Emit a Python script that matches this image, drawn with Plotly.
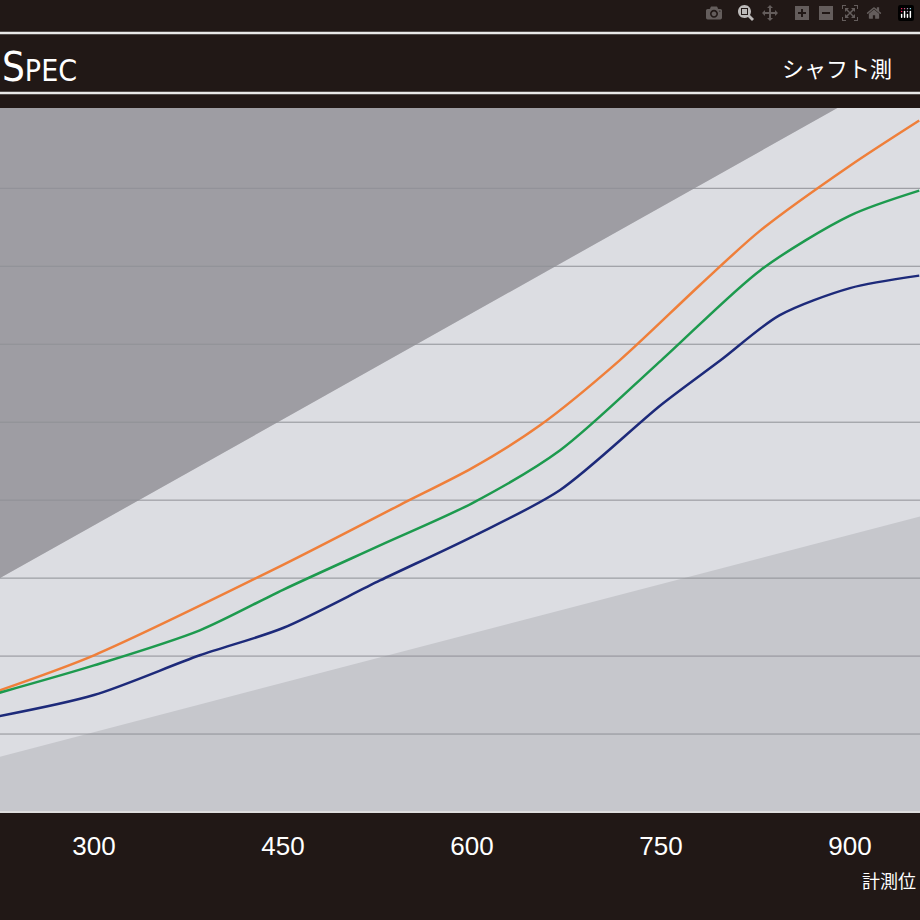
import plotly.graph_objects as go

ox = [225, 300, 450, 543, 600, 654, 717, 781, 829, 900, 955]
oy = [1.56, 2.01, 3.17, 3.94, 4.41, 4.96, 5.79, 6.76, 7.46, 8.29, 8.87]
gx = [225, 300, 384, 450, 527, 600, 670, 750, 829, 900, 955]
gy = [1.53, 1.88, 2.33, 2.85, 3.42, 3.96, 4.64, 5.79, 6.95, 7.65, 7.97]
bx = [225, 300, 384, 450, 527, 600, 670, 750, 797, 844, 900, 955]
by = [1.23, 1.50, 2.01, 2.36, 2.97, 3.53, 4.13, 5.22, 5.79, 6.37, 6.72, 6.88]
xticks = [300, 450, 600, 750, 900]

X0, X1, Y0, Y1 = 225.4, 955.6, 0, 9.03
fig = go.Figure()
shapes = [
    dict(type="path", path=f"M {X0},{Y0} L {X1},{Y0} L {X1},{Y1} L {X0},{Y1} Z", fillcolor="#c6c7cc", line_width=0, layer="below"),
    dict(type="path", path=f"M {X0},0.71 L {X1},3.79 L {X1},{Y1} L 890,{Y1} L {X0},3.0 Z", fillcolor="#dcdde2", line_width=0, layer="below"),
    dict(type="path", path=f"M {X0},3.0 L 890,{Y1} L {X0},{Y1} Z", fillcolor="#9e9da3", line_width=0, layer="below"),
]
for g in range(1, 9):
    shapes.append(dict(type="line", x0=X0, x1=X1, y0=g, y1=g, line=dict(color="#8f9096", width=1), layer="below"))
for py in (33, 93):
    yp = (812 - py) / 704
    shapes.append(dict(type="line", xref="paper", yref="paper", x0=0, x1=1, y0=yp, y1=yp, line=dict(color="#e8e8e8", width=2.5)))
shapes.append(dict(type="line", xref="paper", yref="paper", x0=0, x1=1, y0=0, y1=0, line=dict(color="#ddd", width=2)))

for x, y, c in [(ox, oy, "#ef7f3a"), (gx, gy, "#1d9a4e"), (bx, by, "#1d2a7a")]:
    fig.add_trace(go.Scatter(x=x, y=y, mode="lines", line=dict(color=c, width=2.5, shape="spline", smoothing=0.8), showlegend=False))

ann = [
    dict(x=0, y=(812-67)/704, xanchor="left", text="<span style='font-size:40px'>S</span>PEC", font=dict(size=30, color="white", family="DejaVu Sans Condensed, DejaVu Sans")),
    dict(x=780/920, y=(812-67)/704, xanchor="left", text="シャフト測", font=dict(size=22, color="white", family="Noto Sans CJK JP")),
    dict(x=860/920, y=(812-880)/704, xanchor="left", text="計測位", font=dict(size=18, color="white", family="Noto Sans CJK JP")),
]
for a in ann:
    a.update(xref="paper", yref="paper", showarrow=False, yanchor="middle")

fig.update_layout(
    width=920, height=920, margin=dict(l=0, r=0, t=108, b=108),
    paper_bgcolor="#211816", plot_bgcolor="#c6c7cc",
    shapes=shapes, annotations=ann,
    xaxis=dict(range=[X0, X1], tickvals=xticks, showgrid=False, zeroline=False,
               tickfont=dict(color="white", size=26, family="Liberation Sans Narrow, Liberation Sans"), ticklabelstandoff=16),
    yaxis=dict(range=[Y0, Y1], showgrid=False, zeroline=False, showticklabels=False),
)
fig.write_html("out.html", post_script="document.body.style.margin='0';document.body.style.background='#211816';")
